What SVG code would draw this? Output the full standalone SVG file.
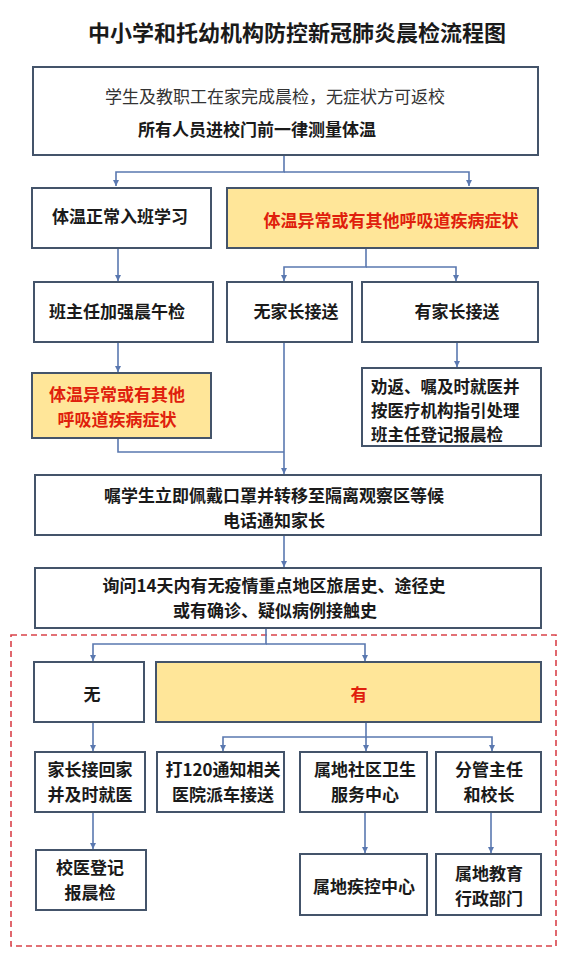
<svg xmlns="http://www.w3.org/2000/svg" width="563" height="967" viewBox="0 0 563 967">
<defs>
<marker id="ah" markerWidth="8" markerHeight="8" refX="6" refY="4" orient="auto" markerUnits="userSpaceOnUse">
<path d="M0,1 L6,4 L0,7 Z" fill="#5a78b0"/>
</marker>
<style>
.box{fill:#ffffff;stroke:#44546a;stroke-width:2}
.hl{fill:#ffe699}
.t{font-family:"Noto Sans CJK SC","Noto Sans CJK TC",sans-serif;font-size:17px;font-weight:bold;fill:#1a1a1a;text-anchor:middle}
.n{font-weight:normal;fill:#333333}
.r{fill:#e0200c}
.l{text-anchor:start}
.s{font-size:16.5px}
.conn path{stroke:#5a78b0;stroke-width:1.6;fill:none}
.ar{marker-end:url(#ah)}
</style>
</defs>
<rect width="563" height="967" fill="#ffffff"/>
<text id="title" x="297" y="41" class="t" style="font-size:22px">中小学和托幼机构防控新冠肺炎晨检流程图</text>

<rect x="11" y="635" width="545" height="311" fill="none" stroke="#d9434a" stroke-width="1.6" stroke-dasharray="6,4"/>

<g class="conn">
<path class="ar" d="M284,155 V172 H116 V186"/>
<path class="ar" d="M284,172 H469 V186"/>
<path class="ar" d="M118,248 V281"/>
<path class="ar" d="M366,248 V267 H284 V281"/>
<path class="ar" d="M366,267 H456 V281"/>
<path class="ar" d="M118,342 V372"/>
<path class="ar" d="M457,342 V367"/>
<path d="M118,438 V452 H284"/>
<path class="ar" d="M284,342 V474"/>
<path class="ar" d="M284,535 V567"/>
<path class="ar" d="M266,628 V644 H93 V661"/>
<path class="ar" d="M266,644 H365 V661"/>
<path class="ar" d="M93,722 V751"/>
<path class="ar" d="M366,722 V737 H223 V751"/>
<path class="ar" d="M366,737 H492 V751"/>
<path class="ar" d="M366,737 V751"/>
<path class="ar" d="M93,812 V849"/>
<path class="ar" d="M365,812 V853"/>
<path class="ar" d="M491,812 V853"/>
</g>

<g id="n-top">
<rect class="box" x="33" y="67" width="505" height="88"/>
<text class="t n" x="275" y="103">学生及教职工在家完成晨检，无症状方可返校</text>
<text class="t" x="257" y="136">所有人员进校门前一律测量体温</text>
</g>
<g id="n-normal">
<rect class="box" x="32" y="188" width="179" height="60"/>
<text class="t" x="120" y="223">体温正常入班学习</text>
</g>
<g id="n-abn1">
<rect class="box hl" x="227" y="188" width="311" height="60"/>
<text class="t r" x="391" y="227">体温异常或有其他呼吸道疾病症状</text>
</g>
<g id="n-teacher">
<rect class="box" x="34" y="282" width="179" height="60"/>
<text class="t" x="117" y="318">班主任加强晨午检</text>
</g>
<g id="n-noparent">
<rect class="box" x="227" y="282" width="125" height="60"/>
<text class="t" x="296" y="318">无家长接送</text>
</g>
<g id="n-parent">
<rect class="box" x="362" y="282" width="176" height="60"/>
<text class="t" x="457" y="318">有家长接送</text>
</g>
<g id="n-abn2">
<rect class="box hl" x="32" y="373" width="179" height="65"/>
<text class="t r" x="117" y="401">体温异常或有其他</text>
<text class="t r" x="117" y="426">呼吸道疾病症状</text>
</g>
<g id="n-advise">
<rect class="box" x="362" y="368" width="179" height="78"/>
<text class="t l s" x="371" y="393">劝返、嘱及时就医并</text>
<text class="t l s" x="371" y="417">按医疗机构指引处理</text>
<text class="t l s" x="371" y="441">班主任登记报晨检</text>
</g>
<g id="n-mask">
<rect class="box" x="35" y="475" width="506" height="60"/>
<text class="t" x="274" y="502">嘱学生立即佩戴口罩并转移至隔离观察区等候</text>
<text class="t" x="274" y="527">电话通知家长</text>
</g>
<g id="n-ask">
<rect class="box" x="35" y="568" width="506" height="60"/>
<text class="t" x="274" y="592">询问14天内有无疫情重点地区旅居史、途径史</text>
<text class="t" x="275" y="617">或有确诊、疑似病例接触史</text>
</g>
<g id="n-no">
<rect class="box" x="34" y="662" width="110" height="60"/>
<text class="t" x="92" y="701">无</text>
</g>
<g id="n-yes">
<rect class="box hl" x="156" y="662" width="385" height="60"/>
<text class="t r" x="359" y="701">有</text>
</g>
<g id="n-home">
<rect class="box" x="35" y="752" width="110" height="60"/>
<text class="t" x="90" y="776">家长接回家</text>
<text class="t" x="90" y="801">并及时就医</text>
</g>
<g id="n-120">
<rect class="box" x="157" y="752" width="127" height="60"/>
<text class="t" x="223" y="776">打120通知相关</text>
<text class="t" x="223" y="801">医院派车接送</text>
</g>
<g id="n-community">
<rect class="box" x="300" y="752" width="127" height="60"/>
<text class="t" x="365" y="776">属地社区卫生</text>
<text class="t" x="365" y="801">服务中心</text>
</g>
<g id="n-principal">
<rect class="box" x="436" y="752" width="105" height="60"/>
<text class="t" x="489" y="776">分管主任</text>
<text class="t" x="489" y="801">和校长</text>
</g>
<g id="n-doctor">
<rect class="box" x="36" y="850" width="110" height="60"/>
<text class="t" x="90" y="874">校医登记</text>
<text class="t" x="90" y="899">报晨检</text>
</g>
<g id="n-cdc">
<rect class="box" x="300" y="854" width="127" height="61"/>
<text class="t" x="364" y="893">属地疾控中心</text>
</g>
<g id="n-edu">
<rect class="box" x="436" y="854" width="105" height="61"/>
<text class="t" x="489" y="880">属地教育</text>
<text class="t" x="489" y="905">行政部门</text>
</g>
</svg>
